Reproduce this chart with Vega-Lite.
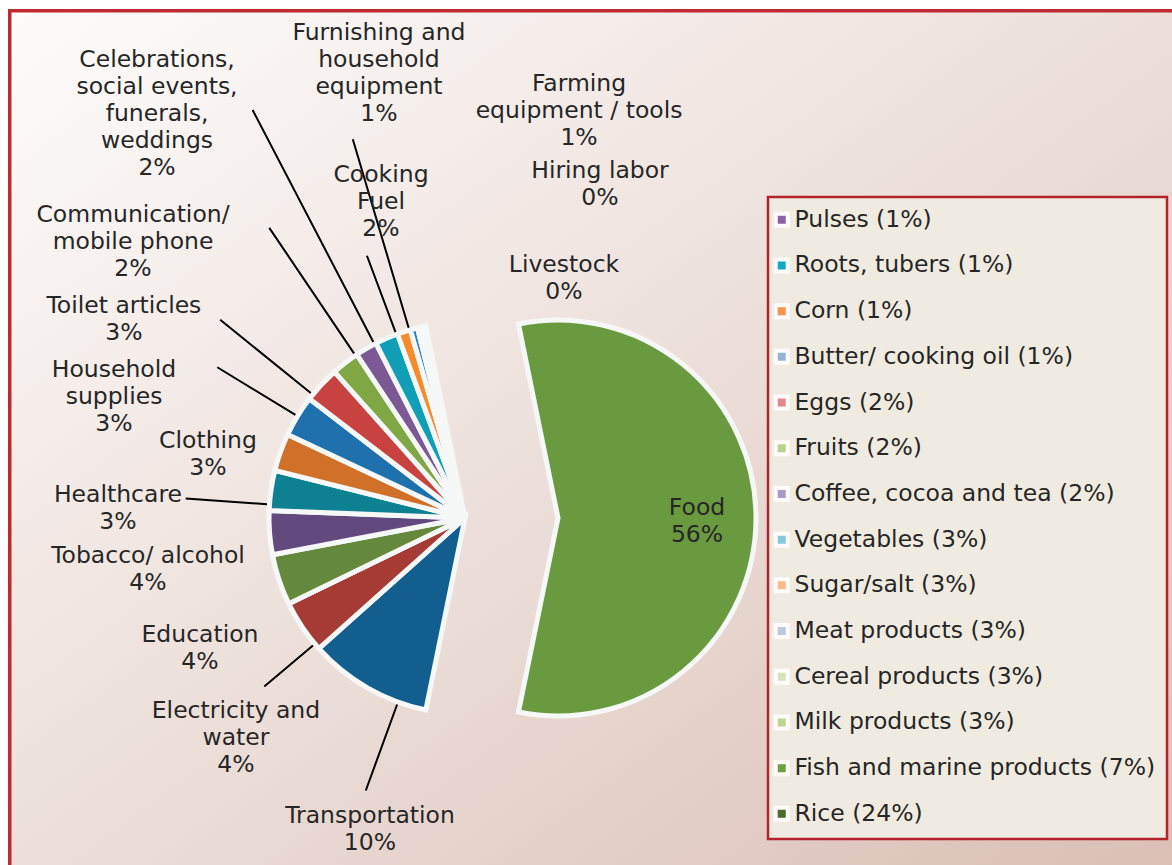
{
  "$schema": "https://vega.github.io/schema/vega-lite/v6.json",
  "width": 1172,
  "height": 865,
  "autosize": {"type": "fit", "contains": "padding"},
  "padding": {"left": 8, "top": 9, "right": 0, "bottom": 0},
  "background": "#ffffff",
  "config": {
    "view": {"stroke": null},
    "legend": {"strokeWidth": 2.5},
    "text": {"font": "DejaVu Sans", "fontSize": 23.5, "lineHeight": 27, "lineBreak": "\n", "color": "#262626", "align": "center", "baseline": "middle"}
  },
  "layer": [
    {
      "data": {"values": [{}]},
      "mark": {"type": "rect", "fill": "#be2a30"},
      "encoding": {"x": {"value": 0}, "x2": {"value": "width"}, "y": {"value": 0}, "y2": {"value": "height"}}
    },
    {
      "data": {"values": [{}]},
      "mark": {
        "type": "rect",
        "fill": {"gradient": "linear", "x1": 0, "y1": 0, "x2": 1, "y2": 1, "stops": [{"offset": 0, "color": "#fdfcfb"}, {"offset": 0.5, "color": "#ecdfda"}, {"offset": 1, "color": "#dbbfb5"}]}
      },
      "encoding": {"x": {"value": 3.5}, "x2": {"value": "width"}, "y": {"value": 3.5}, "y2": {"value": "height"}}
    },
    {
      "data": {"values": [
        {"cat": "Food", "value": 56.4, "label": "Food\n56%"},
        {"cat": "Transportation", "value": 10.2, "label": "Transportation\n10%"},
        {"cat": "Electricity and water", "value": 4.4, "label": "Electricity and\nwater\n4%"},
        {"cat": "Education", "value": 4.2, "label": "Education\n4%"},
        {"cat": "Tobacco/ alcohol", "value": 3.6, "label": "Tobacco/ alcohol\n4%"},
        {"cat": "Healthcare", "value": 3.3, "label": "Healthcare\n3%"},
        {"cat": "Clothing", "value": 3.1, "label": "Clothing\n3%"},
        {"cat": "Household supplies", "value": 3.4, "label": "Household\nsupplies\n3%"},
        {"cat": "Toilet articles", "value": 3.0, "label": "Toilet articles\n3%"},
        {"cat": "Communication/ mobile phone", "value": 2.3, "label": "Communication/\nmobile phone\n2%"},
        {"cat": "Celebrations, social events, funerals, weddings", "value": 1.8, "label": "Celebrations,\nsocial events,\nfunerals,\nweddings\n2%"},
        {"cat": "Cooking Fuel", "value": 1.9, "label": "Cooking\nFuel\n2%"},
        {"cat": "Furnishing and household equipment", "value": 1.1, "label": "Furnishing and\nhousehold\nequipment\n1%"},
        {"cat": "Farming equipment / tools", "value": 0.6, "label": "Farming\nequipment / tools\n1%"},
        {"cat": "Hiring labor", "value": 0.35, "label": "Hiring labor\n0%"},
        {"cat": "Livestock", "value": 0.35, "label": "Livestock\n0%"}
      ]},
      "transform": [
        {"window": [{"op": "row_number", "as": "rank"}]},
        {"stack": "value", "groupby": [], "sort": [{"field": "rank", "order": "ascending"}], "as": ["v0", "v1"]}
      ],
      "layer": [
        {
          "transform": [{"filter": "datum.cat !== 'Food'"}],
          "mark": {"type": "arc", "x": 457, "y": 509, "radius": 196, "stroke": "#f6f8f8", "strokeWidth": 5},
          "encoding": {
            "theta": {"field": "v0", "type": "quantitative", "scale": {"domain": [0, 100], "range": [-0.20106, 6.08213]}},
            "theta2": {"field": "v1"},
            "color": {"field": "cat", "type": "nominal", "legend": null, "scale": {
              "domain": ["Food", "Transportation", "Electricity and water", "Education", "Tobacco/ alcohol", "Healthcare", "Clothing", "Household supplies", "Toilet articles", "Communication/ mobile phone", "Celebrations, social events, funerals, weddings", "Cooking Fuel", "Furnishing and household equipment", "Farming equipment / tools", "Hiring labor", "Livestock"],
              "range": ["#699a3f", "#125f8f", "#a63a35", "#65893c", "#634a7e", "#0d8191", "#d07029", "#1f71ae", "#c8423f", "#7fa744", "#7c5995", "#109fb7", "#f68b2e", "#2c7fc9", "#bfd3ea", "#e0e9f1"]}}
          }
        },
        {
          "transform": [{"filter": "datum.cat === 'Food'"}],
          "mark": {"type": "arc", "x": 550, "y": 509, "radius": 198, "stroke": "#f6f8f8", "strokeWidth": 5},
          "encoding": {
            "theta": {"field": "v0", "type": "quantitative", "scale": {"domain": [0, 100], "range": [-0.20106, 6.08213]}},
            "theta2": {"field": "v1"},
            "color": {"field": "cat", "type": "nominal", "legend": null}
          }
        },
        {"transform": [{"filter": "datum.cat === 'Transportation'"}],
         "mark": {"type": "arc", "x": 457, "y": 509, "radius": 290, "radius2": 198.5, "thetaOffset": -0.1724, "theta2Offset": -0.1724, "padAngle": 1.2, "filled": false, "stroke": "#000000", "strokeWidth": 2},
         "encoding": {"theta": {"field": "v0", "type": "quantitative"}, "theta2": {"field": "v1"}}},
        {"transform": [{"filter": "datum.cat === 'Electricity and water'"}],
         "mark": {"type": "arc", "x": 457, "y": 509, "radius": 262, "radius2": 198.5, "thetaOffset": -0.1075, "theta2Offset": -0.1075, "padAngle": 1.2, "filled": false, "stroke": "#000000", "strokeWidth": 2},
         "encoding": {"theta": {"field": "v0", "type": "quantitative"}, "theta2": {"field": "v1"}}},
        {"transform": [{"filter": "datum.cat === 'Healthcare'"}],
         "mark": {"type": "arc", "x": 457, "y": 509, "radius": 280, "radius2": 198.5, "thetaOffset": -0.0716, "theta2Offset": -0.0716, "padAngle": 1.2, "filled": false, "stroke": "#000000", "strokeWidth": 2},
         "encoding": {"theta": {"field": "v0", "type": "quantitative"}, "theta2": {"field": "v1"}}},
        {"transform": [{"filter": "datum.cat === 'Household supplies'"}],
         "mark": {"type": "arc", "x": 457, "y": 509, "radius": 290, "radius2": 198.5, "padAngle": 1.2, "filled": false, "stroke": "#000000", "strokeWidth": 2},
         "encoding": {"theta": {"field": "v0", "type": "quantitative"}, "theta2": {"field": "v1"}}},
        {"transform": [{"filter": "datum.cat === 'Toilet articles'"}],
         "mark": {"type": "arc", "x": 457, "y": 509, "radius": 315, "radius2": 198.5, "thetaOffset": -0.067, "theta2Offset": -0.067, "padAngle": 1.2, "filled": false, "stroke": "#000000", "strokeWidth": 2},
         "encoding": {"theta": {"field": "v0", "type": "quantitative"}, "theta2": {"field": "v1"}}},
        {"transform": [{"filter": "datum.cat === 'Communication/ mobile phone'"}],
         "mark": {"type": "arc", "x": 457, "y": 509, "radius": 350, "radius2": 198.5, "thetaOffset": 0.0632, "theta2Offset": 0.0632, "padAngle": 1.2, "filled": false, "stroke": "#000000", "strokeWidth": 2},
         "encoding": {"theta": {"field": "v0", "type": "quantitative"}, "theta2": {"field": "v1"}}},
        {"transform": [{"filter": "datum.cat === 'Celebrations, social events, funerals, weddings'"}],
         "mark": {"type": "arc", "x": 457, "y": 509, "radius": 460, "radius2": 198.5, "thetaOffset": 0.0478, "theta2Offset": 0.0478, "padAngle": 1.2, "filled": false, "stroke": "#000000", "strokeWidth": 2},
         "encoding": {"theta": {"field": "v0", "type": "quantitative"}, "theta2": {"field": "v1"}}},
        {"transform": [{"filter": "datum.cat === 'Cooking Fuel'"}],
         "mark": {"type": "arc", "x": 457, "y": 509, "radius": 280, "radius2": 198.5, "thetaOffset": 0.0538, "theta2Offset": 0.0538, "padAngle": 1.2, "filled": false, "stroke": "#000000", "strokeWidth": 2},
         "encoding": {"theta": {"field": "v0", "type": "quantitative"}, "theta2": {"field": "v1"}}},
        {"transform": [{"filter": "datum.cat === 'Furnishing and household equipment'"}],
         "mark": {"type": "arc", "x": 457, "y": 509, "radius": 395, "radius2": 198.5, "thetaOffset": 0.0293, "theta2Offset": 0.0293, "padAngle": 1.2, "filled": false, "stroke": "#000000", "strokeWidth": 2},
         "encoding": {"theta": {"field": "v0", "type": "quantitative"}, "theta2": {"field": "v1"}}},
        {
          "encoding": {
            "theta": {"field": "value", "type": "quantitative", "stack": true, "scale": {"domain": [0, 100], "range": [-0.20106, 6.08213]}},
            "order": {"field": "rank", "type": "quantitative"}
          },
          "layer": [
            {"mark": {"type": "text", "x": 550, "y": 509, "radius": 138, "dx": 1, "dy": -10},
             "encoding": {"text": {"condition": {"test": "datum.cat === 'Food'", "field": "label", "type": "nominal"}, "value": ""}}},
            {"mark": {"type": "text", "x": 457, "y": 509, "radius": 210, "dx": 9.6, "dy": 115.9},
             "encoding": {"text": {"condition": {"test": "datum.cat === 'Transportation'", "field": "label", "type": "nominal"}, "value": ""}}},
            {"mark": {"type": "text", "x": 457, "y": 509, "radius": 210, "dx": -54.6, "dy": 76.1},
             "encoding": {"text": {"condition": {"test": "datum.cat === 'Electricity and water'", "field": "label", "type": "nominal"}, "value": ""}}},
            {"mark": {"type": "text", "x": 457, "y": 509, "radius": 210, "dx": -65.7, "dy": 50.8},
             "encoding": {"text": {"condition": {"test": "datum.cat === 'Education'", "field": "label", "type": "nominal"}, "value": ""}}},
            {"mark": {"type": "text", "x": 457, "y": 509, "radius": 210, "dx": -107.6, "dy": 22.2},
             "encoding": {"text": {"condition": {"test": "datum.cat === 'Tobacco/ alcohol'", "field": "label", "type": "nominal"}, "value": ""}}},
            {"mark": {"type": "text", "x": 457, "y": 509, "radius": 210, "dx": -139.1, "dy": 6.6},
             "encoding": {"text": {"condition": {"test": "datum.cat === 'Healthcare'", "field": "label", "type": "nominal"}, "value": ""}}},
            {"mark": {"type": "text", "x": 457, "y": 509, "radius": 210, "dx": -59.2, "dy": -6.5},
             "encoding": {"text": {"condition": {"test": "datum.cat === 'Clothing'", "field": "label", "type": "nominal"}, "value": ""}}},
            {"mark": {"type": "text", "x": 457, "y": 509, "radius": 210, "dx": -171.6, "dy": -38.8},
             "encoding": {"text": {"condition": {"test": "datum.cat === 'Household supplies'", "field": "label", "type": "nominal"}, "value": ""}}},
            {"mark": {"type": "text", "x": 457, "y": 509, "radius": 210, "dx": -187.1, "dy": -69.1},
             "encoding": {"text": {"condition": {"test": "datum.cat === 'Toilet articles'", "field": "label", "type": "nominal"}, "value": ""}}},
            {"mark": {"type": "text", "x": 457, "y": 509, "radius": 210, "dx": -203.8, "dy": -136.6},
             "encoding": {"text": {"condition": {"test": "datum.cat === 'Communication/ mobile phone'", "field": "label", "type": "nominal"}, "value": ""}}},
            {"mark": {"type": "text", "x": 457, "y": 509, "radius": 210, "dx": -202.2, "dy": -276.6},
             "encoding": {"text": {"condition": {"test": "datum.cat === 'Celebrations, social events, funerals, weddings'", "field": "label", "type": "nominal"}, "value": ""}}},
            {"mark": {"type": "text", "x": 457, "y": 509, "radius": 210, "dx": 0, "dy": -150.5},
             "encoding": {"text": {"condition": {"test": "datum.cat === 'Cooking Fuel'", "field": "label", "type": "nominal"}, "value": ""}}},
            {"mark": {"type": "text", "x": 457, "y": 509, "radius": 210, "dx": -20.5, "dy": -285.5},
             "encoding": {"text": {"condition": {"test": "datum.cat === 'Furnishing and household equipment'", "field": "label", "type": "nominal"}, "value": ""}}},
            {"mark": {"type": "text", "x": 457, "y": 509, "radius": 210, "dx": 168.8, "dy": -231.3},
             "encoding": {"text": {"condition": {"test": "datum.cat === 'Farming equipment / tools'", "field": "label", "type": "nominal"}, "value": ""}}},
            {"mark": {"type": "text", "x": 457, "y": 509, "radius": 210, "dx": 183.7, "dy": -142.7},
             "encoding": {"text": {"condition": {"test": "datum.cat === 'Hiring labor'", "field": "label", "type": "nominal"}, "value": ""}}},
            {"mark": {"type": "text", "x": 457, "y": 509, "radius": 210, "dx": 143.2, "dy": -47.7},
             "encoding": {"text": {"condition": {"test": "datum.cat === 'Livestock'", "field": "label", "type": "nominal"}, "value": ""}}}
          ]
        }
      ]
    },
    {
      "data": {"values": [
        {"item": "Pulses (1%)"},
        {"item": "Roots, tubers (1%)"},
        {"item": "Corn (1%)"},
        {"item": "Butter/ cooking oil (1%)"},
        {"item": "Eggs (2%)"},
        {"item": "Fruits (2%)"},
        {"item": "Coffee, cocoa and tea (2%)"},
        {"item": "Vegetables (3%)"},
        {"item": "Sugar/salt (3%)"},
        {"item": "Meat products (3%)"},
        {"item": "Cereal products (3%)"},
        {"item": "Milk products (3%)"},
        {"item": "Fish and marine products (7%)"},
        {"item": "Rice  (24%)"}
      ]},
      "mark": {"type": "point", "filled": true, "opacity": 0},
      "encoding": {
        "fill": {
          "field": "item", "type": "nominal",
          "scale": {
            "domain": ["Pulses (1%)", "Roots, tubers (1%)", "Corn (1%)", "Butter/ cooking oil (1%)", "Eggs (2%)", "Fruits (2%)", "Coffee, cocoa and tea (2%)", "Vegetables (3%)", "Sugar/salt (3%)", "Meat products (3%)", "Cereal products (3%)", "Milk products (3%)", "Fish and marine products (7%)", "Rice  (24%)"],
            "range": ["#8c60a8", "#13a9c9", "#f7944a", "#95b3d7", "#e2898f", "#b9d38f", "#ae98c6", "#86c8da", "#f9b98b", "#b9c7df", "#d3e3bb", "#bdd693", "#6fa03c", "#4c6b2d"]
          },
          "legend": {
            "title": null,
            "orient": "none",
            "legendX": 760,
            "legendY": 188,
            "columns": 1,
            "symbolType": "square",
            "symbolSize": 144,
            "symbolStrokeColor": "#fdfcfa",
            "symbolStrokeWidth": 4,
            "symbolOpacity": 1,
            "symbolOffset": -9,
            "labelFont": "DejaVu Sans",
            "labelFontSize": 23.5,
            "labelColor": "#262626",
            "labelLimit": 600,
            "labelOffset": 1,
            "rowPadding": 16.7,
            "padding": 11,
            "fillColor": "#f0ebe0",
            "strokeColor": "#b5232a"
          }
        }
      }
    }
  ]
}
